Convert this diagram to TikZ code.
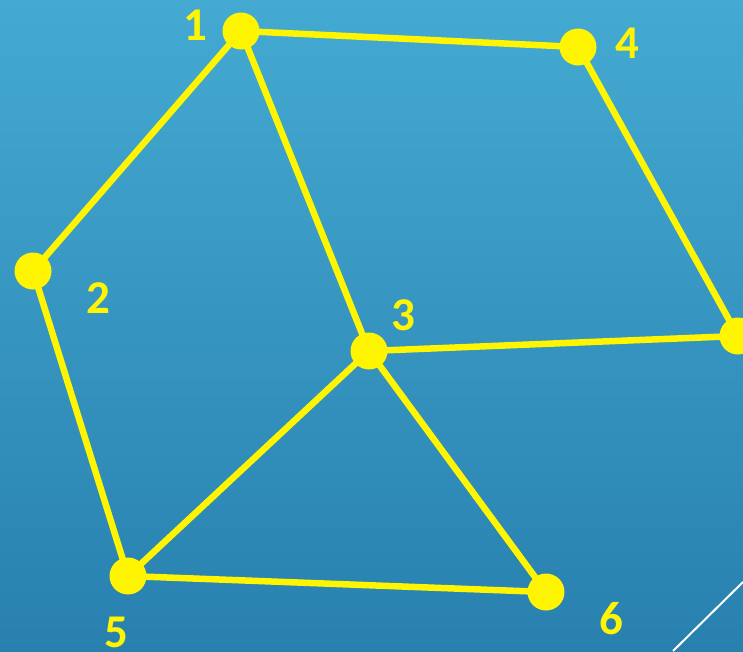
\documentclass[tikz,border=0pt]{standalone}
\usepackage{fontspec}
\setmainfont{Carlito}
\begin{document}
\begin{tikzpicture}[x=1pt,y=-1pt,
  vtx/.style={circle,fill=vyellow,inner sep=0pt,minimum size=37pt},
  edge/.style={draw=vyellow,line width=6.5pt},
  lbl/.style={text=vyellow,font=\fontsize{47}{47}\selectfont\bfseries,inner sep=0pt}]
\definecolor{vyellow}{RGB}{255,245,0}
\definecolor{bgtop}{RGB}{68,170,210}
\definecolor{bgbot}{RGB}{40,128,174}
\shade[top color=bgtop,bottom color=bgbot] (0,0) rectangle (743,651);
\useasboundingbox (0,0) rectangle (743,651);
\coordinate (n1) at (241,31);
\coordinate (n4) at (578,47);
\coordinate (n2) at (33,271);
\coordinate (n3) at (369,351);
\coordinate (n7) at (738,336);
\coordinate (n5) at (128,576);
\coordinate (n6) at (546,592);
\draw[edge] (n1) -- (n4);
\draw[edge] (n1) -- (n2);
\draw[edge] (n1) -- (n3);
\draw[edge] (n4) -- (n7);
\draw[edge] (n3) -- (n7);
\draw[edge] (n2) -- (n5);
\draw[edge] (n3) -- (n5);
\draw[edge] (n3) -- (n6);
\draw[edge] (n5) -- (n6);
\foreach \n in {n1,n2,n3,n4,n5,n6,n7} \node[vtx] at (\n) {};
\node[lbl] (l1) at (195,25) {1};
\node[lbl] (l4) at (627,43) {4};
\node[lbl] (l2) at (98,298) {2};
\node[lbl] (l3) at (403,315) {3};
\node[lbl] (l5) at (116,632) {5};
\node[lbl] (l6) at (611,619) {6};
\coordinate (w1) at (673,651);
\coordinate (w2) at (743,582);
\draw[white,line width=2pt] (w1) -- (w2);
\end{tikzpicture}
\end{document}
